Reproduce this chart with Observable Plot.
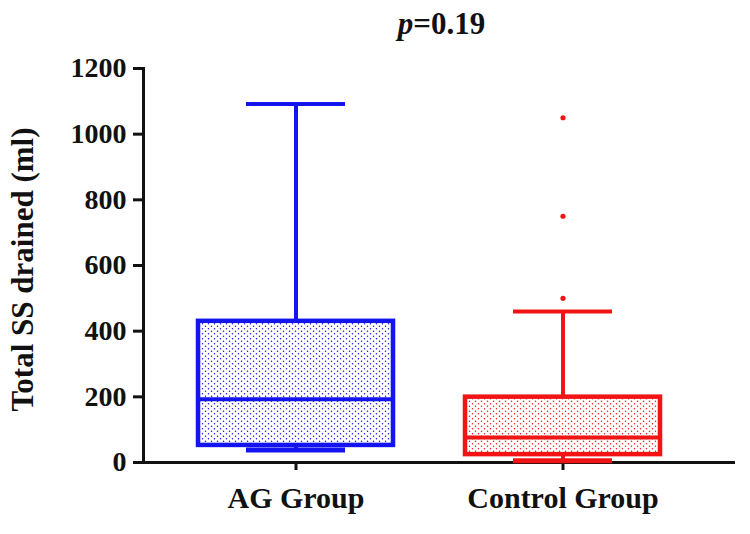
<!DOCTYPE html>
<html>
<head>
<meta charset="utf-8">
<script src="https://cdn.jsdelivr.net/npm/d3@7"></script>
<script src="https://cdn.jsdelivr.net/npm/@observablehq/plot@0.6"></script>
<style>
  html, body { margin: 0; padding: 0; background: #fff; }
  #chart svg { display: block; }
</style>
</head>
<body>
<div id="chart"></div>
<script>
// ---- data ----
const groups = ["AG Group", "Control Group"];
const whiskerLow = [38, 5];
const q1 = [52, 24];
const median = [193, 76];
const q3 = [430, 199];
const whiskerHigh = [1092, 460];
const outlierGroup = ["Control Group", "Control Group", "Control Group"];
const outlierValue = [1050, 750, 500];
const yTicks = [0, 200, 400, 600, 800, 1000, 1200];
const colors = ["#1414f0", "#f01414"];
const patterns = ["url(#dotsBlue)", "url(#dotsRed)"];
const yLabel = "Total SS drained (ml)";
const pValue = "=0.19";

const boxes = groups.map((g, i) => ({
  group: g, lo: whiskerLow[i], q1: q1[i], med: median[i], q3: q3[i], hi: whiskerHigh[i],
  color: colors[i], pattern: patterns[i]
}));
const outliers = outlierGroup.map((g, i) => ({group: g, value: outlierValue[i]}));

const font = "'Liberation Serif', 'Times New Roman', serif";

const plot = Plot.plot({
  width: 750,
  height: 534,
  marginLeft: 143,
  marginRight: 15,
  marginTop: 68,
  marginBottom: 72,
  style: {fontFamily: font, fontWeight: "bold", color: "#111", background: "#fff"},
  x: {domain: groups, paddingInner: 0.254, paddingOuter: 0.2315, align: 0.419, label: null},
  y: {domain: [0, 1200], label: null},
  marks: [
    Plot.axisY({
      ticks: yTicks, tickFormat: d => String(d), tickSize: 10, tickPadding: 7,
      fontSize: 28, strokeWidth: 3, label: null
    }),
    Plot.axisX({tickSize: 8, tickPadding: 16, fontSize: 30, strokeWidth: 3, label: null}),
    Plot.frame({anchor: "left", strokeWidth: 3}),
    Plot.ruleY([0], {strokeWidth: 3}),
    // y axis title
    Plot.text([yLabel], {frameAnchor: "left", rotate: -90, dx: -120, dy: 4, textAnchor: "middle", lineAnchor: "middle", fontSize: 31, fontWeight: "bold"}),
    // whiskers
    Plot.ruleX(boxes, {x: "group", y1: "q3", y2: "hi", stroke: "color", strokeWidth: 4}),
    Plot.ruleX(boxes, {x: "group", y1: "lo", y2: "q1", stroke: "color", strokeWidth: 4}),
    // caps
    Plot.tickY(boxes, {x: "group", y: "hi", stroke: "color", strokeWidth: 4, insetLeft: 50, insetRight: 50}),
    Plot.tickY(boxes, {x: "group", y: "lo", stroke: "color", strokeWidth: 5, insetLeft: 50, insetRight: 50}),
    // boxes
    Plot.barY(boxes, {x: "group", y1: "q1", y2: "q3", fill: "pattern", stroke: "color", strokeWidth: 4.5, insetLeft: 2, insetRight: 2}),
    // medians
    Plot.tickY(boxes, {x: "group", y: "med", stroke: "color", strokeWidth: 4, insetLeft: 2, insetRight: 2}),
    // outliers
    Plot.dot(outliers, {x: "group", y: "value", r: 2.6, fill: colors[1], stroke: null}),
    // p-value title
    Plot.text([pValue], {frameAnchor: "top", dy: -35, dx: 2, lineAnchor: "bottom", fontSize: 31, fontWeight: "bold", className: "pval"})
  ]
});

// dotted fill patterns
const svgNS = "http://www.w3.org/2000/svg";
const defs = document.createElementNS(svgNS, "defs");
[["dotsBlue", colors[0]], ["dotsRed", colors[1]]].forEach(([id, c]) => {
  const p = document.createElementNS(svgNS, "pattern");
  p.setAttribute("id", id);
  p.setAttribute("patternUnits", "userSpaceOnUse");
  p.setAttribute("width", 6);
  p.setAttribute("height", 5);
  const bg = document.createElementNS(svgNS, "rect");
  bg.setAttribute("width", 6); bg.setAttribute("height", 5); bg.setAttribute("fill", "#fff");
  p.appendChild(bg);
  [[1.5, 1.2], [4.5, 3.7]].forEach(([cx, cy]) => {
    const d = document.createElementNS(svgNS, "circle");
    d.setAttribute("cx", cx); d.setAttribute("cy", cy); d.setAttribute("r", 0.75);
    d.setAttribute("fill", c);
    p.appendChild(d);
  });
  defs.appendChild(p);
});
plot.insertBefore(defs, plot.firstChild);

// italic p in the title
const t = plot.querySelector(".pval text");
if (t) {
  const val = t.textContent;
  t.textContent = "";
  const ts = document.createElementNS(svgNS, "tspan");
  ts.setAttribute("font-style", "italic");
  ts.textContent = "p";
  t.appendChild(ts);
  t.appendChild(document.createTextNode(val));
}

document.getElementById("chart").appendChild(plot);
</script>
</body>
</html>
